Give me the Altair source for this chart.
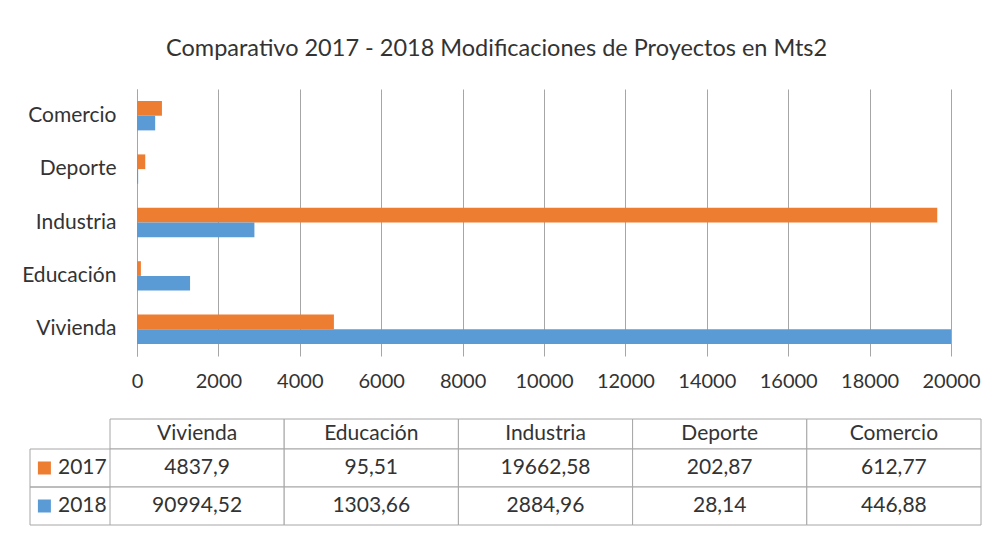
import altair as alt
import pandas as pd

categories = ["Vivienda", "Educación", "Industria", "Deporte", "Comercio"]
series = ["2017", "2018"]
values_2017 = [4837.9, 95.51, 19662.58, 202.87, 612.77]
values_2018 = [90994.52, 1303.66, 2884.96, 28.14, 446.88]
x_ticks = [0, 2000, 4000, 6000, 8000, 10000, 12000, 14000, 16000, 18000, 20000]
title_text = "Comparativo 2017 - 2018 Modificaciones de Proyectos en Mts2"

FONT = "Lato"
TEXT = "#333333"
GRID = "#a6a6a6"
ORANGE = "#ED7D31"
BLUE = "#5B9BD5"


def fmt(v):
    return str(v).replace(".", ",")


rows = []
for c, a, b in zip(categories, values_2017, values_2018):
    rows.append({"Categoria": c, "Serie": "2017", "Valor": a, "label": fmt(a)})
    rows.append({"Categoria": c, "Serie": "2018", "Valor": b, "label": fmt(b)})
df = pd.DataFrame(rows)
hdr_df = pd.DataFrame({"Categoria": categories, "r": ["hdr"] * len(categories)})
key_df = pd.DataFrame({"Serie": series, "k": ["key"] * len(series)})

color_scale = alt.Scale(domain=series, range=[ORANGE, BLUE])

bars = alt.Chart(df).mark_bar().encode(
    y=alt.Y("Categoria:N", sort=categories[::-1],
            scale=alt.Scale(paddingInner=0.45, paddingOuter=0.225),
            axis=alt.Axis(title=None, ticks=False, domain=True, domainColor=GRID,
                          labelFont=FONT, labelFontSize=21, labelColor=TEXT,
                          labelPadding=21)),
    x=alt.X("Valor:Q", scale=alt.Scale(domain=[0, 20000], clamp=True, nice=False),
            axis=alt.Axis(title=None, values=x_ticks, format="d", ticks=False,
                          domain=False, grid=True, gridColor=GRID,
                          labelFont=FONT, labelFontSize=20, labelColor=TEXT,
                          labelPadding=15, labelOverlap=False, labelFlush=False)),
    yOffset=alt.YOffset("Serie:N", sort=series),
    color=alt.Color("Serie:N", scale=color_scale, legend=None),
).properties(width=814, height=267)


def band(domain, rng):
    return alt.Scale(type="band", domain=domain, range=rng, paddingInner=0, paddingOuter=0)


cell = dict(fill="#ffffff", stroke=GRID, strokeWidth=1)
txt = dict(font=FONT, fontSize=21, color=TEXT)

X_COL = alt.X("Categoria:N", scale=band(categories, [-27, 844]), axis=None, sort=categories)
Y_HDR = alt.Y("r:N", scale=band(["hdr"], [0, 30]), axis=None)
Y_ROW = alt.Y("Serie:N", scale=band(series, [30, 106]), axis=None, sort=series)
KEY_SCALE_DOMAIN = ["key"]
KEY_RANGE = [-107, -27]

hdr_rect = alt.Chart(hdr_df).mark_rect(**cell).encode(x=X_COL, y=Y_HDR)
hdr_text = alt.Chart(hdr_df).mark_text(**txt).encode(x=X_COL, y=Y_HDR, text="Categoria:N")
row_rect = alt.Chart(df).mark_rect(**cell).encode(x=X_COL, y=Y_ROW)
row_text = alt.Chart(df).mark_text(**txt).encode(x=X_COL, y=Y_ROW, text="label:N")

# borders of the legend-key column drawn as rules
key_h_top = alt.Chart(key_df).mark_rule(color=GRID, strokeWidth=1).encode(
    x=alt.X("k:N", scale=band(KEY_SCALE_DOMAIN, KEY_RANGE), axis=None, bandPosition=0),
    x2=alt.X2("k:N", bandPosition=1),
    y=alt.Y("Serie:N", scale=band(series, [30, 106]), axis=None, sort=series, bandPosition=0))
key_h_bot = alt.Chart(key_df).mark_rule(color=GRID, strokeWidth=1).encode(
    x=alt.X("k:N", scale=band(KEY_SCALE_DOMAIN, KEY_RANGE), axis=None, bandPosition=0),
    x2=alt.X2("k:N", bandPosition=1),
    y=alt.Y("Serie:N", scale=band(series, [30, 106]), axis=None, sort=series, bandPosition=1))
key_v = alt.Chart(key_df).mark_rule(color=GRID, strokeWidth=1).encode(
    x=alt.X("k:N", scale=band(KEY_SCALE_DOMAIN, KEY_RANGE), axis=None, bandPosition=0),
    y=alt.Y("Serie:N", scale=band(series, [30, 106]), axis=None, sort=series, bandPosition=0),
    y2=alt.Y2("Serie:N", bandPosition=1))

key_sq = alt.Chart(key_df).mark_point(shape="square", filled=True, size=169, opacity=1).encode(
    x=alt.X("k:N", scale=band(KEY_SCALE_DOMAIN, KEY_RANGE), axis=None, bandPosition=0.18),
    y=Y_ROW,
    color=alt.Color("Serie:N", scale=color_scale, legend=None))
key_text = alt.Chart(key_df).mark_text(align="left", **txt).encode(
    x=alt.X("k:N", scale=band(KEY_SCALE_DOMAIN, KEY_RANGE), axis=None, bandPosition=0.35),
    y=Y_ROW, text="Serie:N")

table = alt.layer(hdr_rect, hdr_text, row_rect, row_text, key_h_top, key_h_bot, key_v,
                  key_sq, key_text).resolve_scale(
    x="independent", y="independent").properties(width=814, height=106)

chart = alt.vconcat(bars, table, spacing=27).properties(
    title=alt.TitleParams(title_text, font=FONT, fontSize=23.5, fontWeight="normal",
                          color=TEXT, anchor="middle", offset=29, dx=-5),
    padding={"left": 13, "top": 28, "right": 5, "bottom": 5},
).configure_view(stroke=None)

chart.save("out.html", embed_options={"renderer": "svg", "actions": False})
